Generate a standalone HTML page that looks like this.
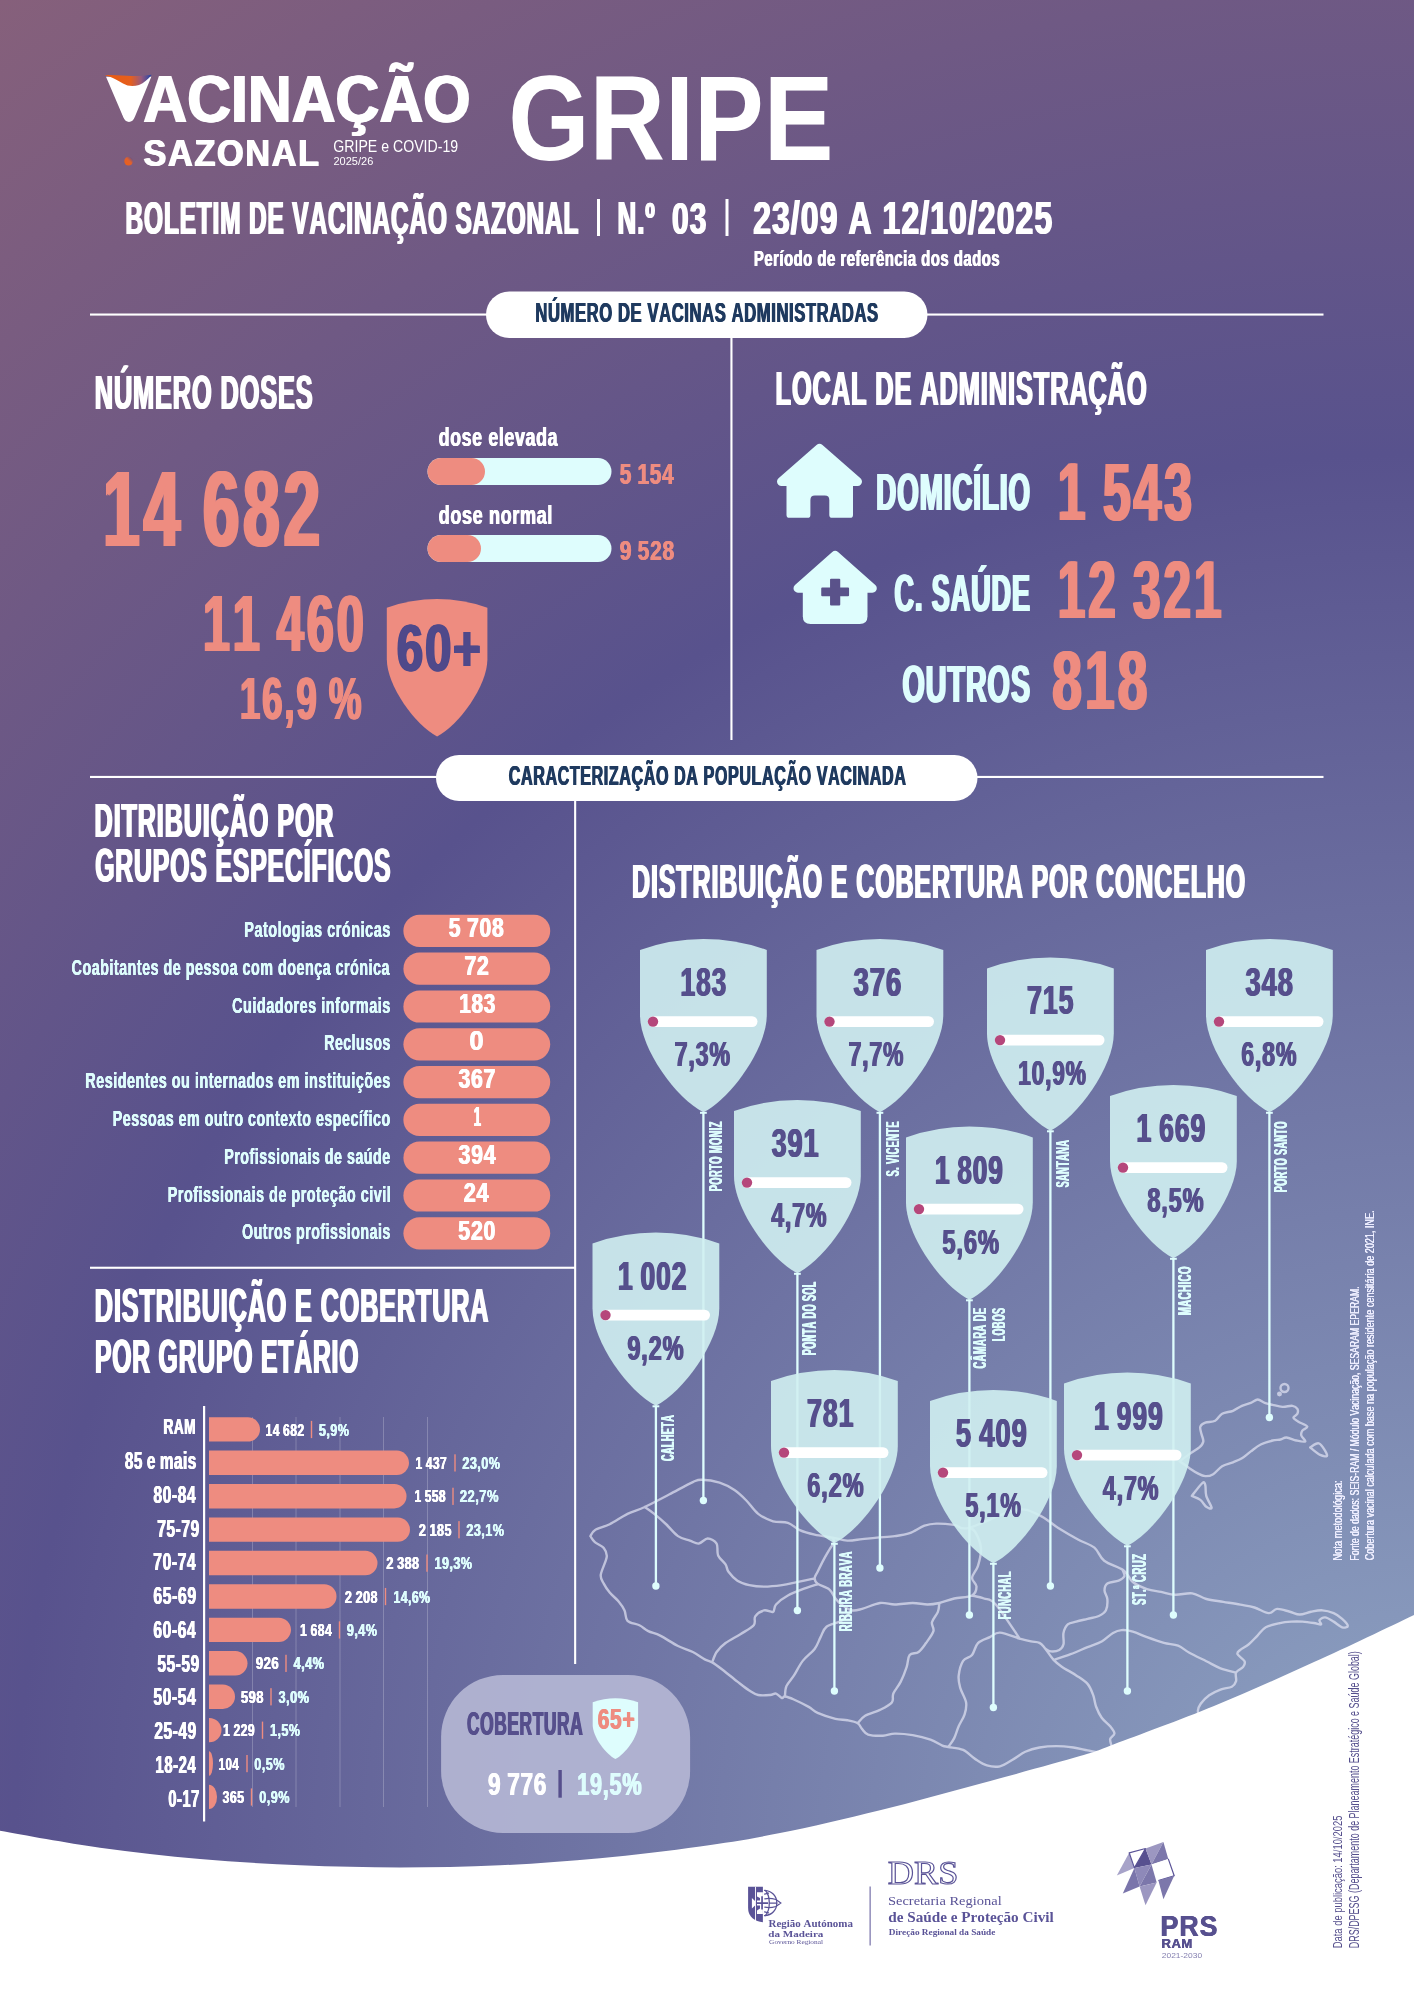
<!DOCTYPE html>
<html lang="pt"><head><meta charset="utf-8"><title>Boletim de Vacinação Sazonal - Gripe</title>
<style>
html,body{margin:0;padding:0}
body{width:1414px;height:2000px;position:relative;overflow:hidden;background:#5c528b;font-family:"Liberation Sans",sans-serif;font-weight:bold;font-kerning:none}
#bg{position:absolute;left:0;top:0;width:1414px;height:2000px;background:radial-gradient(circle 2400px at 1424px 1864px,#90a6c5 0px,#58528d 1410px,#86607b 2346px)}
svg{position:absolute;left:0;top:0}
#tx{position:absolute;left:0;top:0;width:1414px;height:2000px;will-change:transform;transform:translateZ(0)}
.t{position:absolute;white-space:nowrap;line-height:1;transform-origin:0 0;margin:0;padding:0}
</style></head><body>
<div id="bg"></div>
<div class="t" style="left:108px;top:70px;font-size:57.41px;color:#ffffff;transform:translateX(0.59px) scaleX(1.0398);">V</div>
<svg width="1414" height="2000" viewBox="0 0 1414 2000">
<defs><linearGradient id="lg1" gradientUnits="userSpaceOnUse" x1="106" y1="0" x2="151" y2="0"><stop offset="0" stop-color="#ea5a10"/><stop offset="0.55" stop-color="#e55f1e"/><stop offset="0.78" stop-color="#9a5a7c"/><stop offset="1" stop-color="#2446a6"/></linearGradient>
<linearGradient id="lg2" x1="0" y1="1" x2="1" y2="0"><stop offset="0" stop-color="#ee5f12"/><stop offset="0.55" stop-color="#e0602e"/><stop offset="1" stop-color="#3a4da6"/></linearGradient></defs>
<path d="M106 76.8 L151.3 76.8 L135 116.5 C133.5 120.5 131.5 121.9 129 121.9 C126.5 121.9 124.5 120.5 123 116.5 Z" fill="#fff"/>
<path d="M105.3 75 C112 75.2 120 75.2 127 75.8 C135 76.4 143 76.2 151.8 74.8 C148 79.2 144 83 139 85 C134 86.6 128 86.6 123 83.6 C117 80 112 77 105.3 75.2 Z" fill="url(#lg1)"/>
<circle cx="128.6" cy="161.1" r="4.3" fill="url(#lg2)"/>
<rect x="597" y="199" width="3" height="37" fill="#fff"/>
<rect x="725.5" y="199" width="3" height="37" fill="#fff"/>
<rect x="90" y="313.5" width="1233.5" height="2.1" fill="#fff"/>
<rect x="486" y="291.5" width="441.5" height="46.5" rx="23.25" fill="#fff"/>
<rect x="730.4" y="338" width="2.1" height="402" fill="#fff"/>
<rect x="427.5" y="458" width="184" height="27" rx="13.5" fill="#defdfd"/>
<rect x="427.5" y="458" width="57.5" height="27" rx="13.5" fill="#ee8c80"/>
<rect x="427.5" y="535" width="184" height="27" rx="13.5" fill="#defdfd"/>
<rect x="427.5" y="535" width="53.5" height="27" rx="13.5" fill="#ee8c80"/>
<path d="M386.8 607.65 A150.5 150.5 0 0 1 487.4 607.65 L487.4 659.36 C487.4 685.82 458.73 725.66 437.1 736.42 C415.47 725.66 386.8 685.82 386.8 659.36 Z" fill="#ee8c80"/>
<g transform="translate(777 444) scale(1 0.99)" fill="#defdfd"><path d="M42.5 4.5 L80.5 38 L4.5 38 Z" stroke="#defdfd" stroke-width="9" stroke-linejoin="round"/><path d="M9.5 36 L76 36 L76 71.6 Q76 74.6 73 74.6 L55.3 74.6 Q52.3 74.6 52.3 71.6 L52.3 56.5 Q52.3 52 47.8 52 L37.9 52 Q33.4 52 33.4 56.5 L33.4 71.6 Q33.4 74.6 30.4 74.6 L12.5 74.6 Q9.5 74.6 9.5 71.6 Z"/></g>
<g transform="translate(793.5 551) scale(0.98 0.98)" fill="#defdfd"><path d="M42.5 4.5 L80.5 38 L4.5 38 Z" stroke="#defdfd" stroke-width="9" stroke-linejoin="round"/><path d="M9.5 36 L75.5 36 L75.5 66.6 Q75.5 74.6 67.5 74.6 L17.5 74.6 Q9.5 74.6 9.5 66.6 Z"/><path d="M38.3 28.2 L46.7 28.2 Q47.7 28.2 47.7 29.2 L47.7 37.3 L55.7 37.3 Q56.7 37.3 56.7 38.3 L56.7 45.2 Q56.7 46.2 55.7 46.2 L47.7 46.2 L47.7 54.7 Q47.7 55.7 46.7 55.7 L38.3 55.7 Q37.3 55.7 37.3 54.7 L37.3 46.2 L29.3 46.2 Q28.3 46.2 28.3 45.2 L28.3 38.3 Q28.3 37.3 29.3 37.3 L37.3 37.3 L37.3 29.2 Q37.3 28.2 38.3 28.2 Z" fill="#5a528a"/></g>
<rect x="90" y="775.9" width="1233.5" height="2.1" fill="#fff"/>
<rect x="436" y="755" width="541.5" height="46" rx="23" fill="#fff"/>
<rect x="574.1" y="801" width="2.1" height="863" fill="#fff"/>
<rect x="403.4" y="914.8" width="146.8" height="32.2" rx="16.1" fill="#ee8c80"/>
<rect x="403.4" y="952.6" width="146.8" height="32.2" rx="16.1" fill="#ee8c80"/>
<rect x="403.4" y="990.4" width="146.8" height="32.2" rx="16.1" fill="#ee8c80"/>
<rect x="403.4" y="1028.2" width="146.8" height="32.2" rx="16.1" fill="#ee8c80"/>
<rect x="403.4" y="1066" width="146.8" height="32.2" rx="16.1" fill="#ee8c80"/>
<rect x="403.4" y="1103.8" width="146.8" height="32.2" rx="16.1" fill="#ee8c80"/>
<rect x="403.4" y="1141.6" width="146.8" height="32.2" rx="16.1" fill="#ee8c80"/>
<rect x="403.4" y="1179.4" width="146.8" height="32.2" rx="16.1" fill="#ee8c80"/>
<rect x="403.4" y="1217.2" width="146.8" height="32.2" rx="16.1" fill="#ee8c80"/>
<rect x="90" y="1266.7" width="485" height="2.1" fill="#fff"/>
<rect x="252" y="1417" width="1" height="390" fill="#fff" opacity="0.22"/>
<rect x="295.5" y="1417" width="1" height="390" fill="#fff" opacity="0.22"/>
<rect x="339.5" y="1417" width="1" height="390" fill="#fff" opacity="0.22"/>
<rect x="383" y="1417" width="1" height="390" fill="#fff" opacity="0.22"/>
<rect x="427" y="1417" width="1" height="390" fill="#fff" opacity="0.22"/>
<rect x="203" y="1406" width="2.2" height="415.5" fill="#fff"/>
<path d="M209 1417.2 L247.8 1417.2 A12.2 12.2 0 0 1 247.8 1441.6 L209 1441.6 Z" fill="#ee8c80"/>
<rect x="310.8" y="1420.9" width="1.4" height="17.2" fill="#ee8c80"/>
<path d="M209 1450.61 L396.8 1450.61 A12.2 12.2 0 0 1 396.8 1475.01 L209 1475.01 Z" fill="#ee8c80"/>
<rect x="454.3" y="1454.31" width="1.4" height="17.2" fill="#ee8c80"/>
<path d="M209 1484.02 L394.3 1484.02 A12.2 12.2 0 0 1 394.3 1508.42 L209 1508.42 Z" fill="#ee8c80"/>
<rect x="452.3" y="1487.72" width="1.4" height="17.2" fill="#ee8c80"/>
<path d="M209 1517.43 L397.8 1517.43 A12.2 12.2 0 0 1 397.8 1541.83 L209 1541.83 Z" fill="#ee8c80"/>
<rect x="458.3" y="1521.13" width="1.4" height="17.2" fill="#ee8c80"/>
<path d="M209 1550.84 L365.3 1550.84 A12.2 12.2 0 0 1 365.3 1575.24 L209 1575.24 Z" fill="#ee8c80"/>
<rect x="426.3" y="1554.54" width="1.4" height="17.2" fill="#ee8c80"/>
<path d="M209 1584.25 L324.3 1584.25 A12.2 12.2 0 0 1 324.3 1608.65 L209 1608.65 Z" fill="#ee8c80"/>
<rect x="384.8" y="1587.95" width="1.4" height="17.2" fill="#ee8c80"/>
<path d="M209 1617.66 L278.8 1617.66 A12.2 12.2 0 0 1 278.8 1642.06 L209 1642.06 Z" fill="#ee8c80"/>
<rect x="338.8" y="1621.36" width="1.4" height="17.2" fill="#ee8c80"/>
<path d="M209 1651.07 L235.3 1651.07 A12.2 12.2 0 0 1 235.3 1675.47 L209 1675.47 Z" fill="#ee8c80"/>
<rect x="285.3" y="1654.77" width="1.4" height="17.2" fill="#ee8c80"/>
<path d="M209 1684.48 L222.8 1684.48 A12.2 12.2 0 0 1 222.8 1708.88 L209 1708.88 Z" fill="#ee8c80"/>
<rect x="270.3" y="1688.18" width="1.4" height="17.2" fill="#ee8c80"/>
<path d="M209 1717.89 L209.3 1717.89 A12.2 12.2 0 0 1 209.3 1742.29 L209 1742.29 Z" fill="#ee8c80"/>
<rect x="261.8" y="1721.59" width="1.4" height="17.2" fill="#ee8c80"/>
<path d="M209 1751.3 L209 1751.3 A4 12.2 0 0 1 209 1775.7 L209 1775.7 Z" fill="#ee8c80"/>
<rect x="246.3" y="1755" width="1.4" height="17.2" fill="#ee8c80"/>
<path d="M209 1784.71 L209 1784.71 A8 12.2 0 0 1 209 1809.11 L209 1809.11 Z" fill="#ee8c80"/>
<rect x="250.8" y="1788.41" width="1.4" height="17.2" fill="#ee8c80"/>
<rect x="441.1" y="1674.9" width="249" height="158.1" rx="62" fill="#b3b5d2" opacity="0.94"/>
<path d="M592.7 1702.22 A67.92 66.37 0 0 1 638.1 1702.22 L638.1 1725.02 C638.1 1736.69 625.16 1754.25 615.4 1759 C605.64 1754.25 592.7 1736.69 592.7 1725.02 Z" fill="#defdfd"/>
<rect x="558.4" y="1770" width="3.4" height="27.7" fill="#564f8c"/>
<g fill="none" stroke="#e2e4f3" stroke-opacity="0.7" stroke-width="2.4" stroke-linejoin="round" stroke-linecap="round"><path d="M590.4 1536.13 C591.14 1535.14 591.63 1532.17 594.85 1530.19 C598.07 1528.21 604.26 1526.97 609.7 1524.25 C615.15 1521.53 621.68 1516.73 627.52 1513.86 C633.36 1510.98 637.82 1510.24 644.75 1507.02 C651.68 1503.81 661.08 1498.71 669.1 1494.55 C677.12 1490.39 687.42 1484.55 692.86 1482.08 C698.31 1479.6 697.32 1479.6 701.77 1479.7 C706.23 1479.8 714.15 1480.94 719.59 1482.67 C725.04 1484.4 729.99 1487.13 734.44 1490.1 C738.9 1493.07 742.36 1496.53 746.32 1500.49 C750.28 1504.45 753.75 1510.39 758.2 1513.86 C762.66 1517.32 768.1 1519.8 773.05 1521.28 C778 1522.77 783.45 1521.28 787.9 1522.77 C792.36 1524.25 795.33 1528.21 799.78 1530.19 C804.24 1532.17 809.19 1533.41 814.63 1534.65 C820.08 1535.88 827.01 1536.63 832.45 1537.62 C837.9 1538.61 842.35 1540.34 847.3 1540.59 C852.25 1540.83 857.2 1539.6 862.15 1539.1 C867.1 1538.61 871.56 1538.11 877 1537.62 C882.45 1537.12 889.38 1536.87 894.82 1536.13 C900.27 1535.39 904.72 1534.89 909.67 1533.16 C914.62 1531.43 920.07 1527.32 924.52 1525.74 C928.98 1524.15 931.45 1523.8 936.4 1523.66 C941.35 1523.51 948.78 1524.15 954.22 1524.84 C959.67 1525.54 958.84 1530.3 969.07 1527.81 C979.31 1525.33 1004.04 1512.09 1015.63 1509.93 C1027.22 1507.77 1031.49 1511.84 1038.6 1514.85 C1045.71 1517.86 1051.73 1523.88 1058.29 1527.98 C1064.85 1532.08 1071.96 1536.18 1077.98 1539.46 C1083.99 1542.74 1090.01 1544.11 1094.39 1547.67 C1098.76 1551.22 1099.31 1556.96 1104.23 1560.79 C1109.15 1564.62 1119.16 1567.1 1123.92 1570.64 C1128.68 1574.18 1128.97 1578.96 1132.81 1582.04 C1136.65 1585.12 1142.24 1587.46 1146.96 1589.11 C1151.67 1590.76 1156.39 1590.99 1161.1 1591.94 C1165.82 1592.88 1170.06 1594.53 1175.24 1594.77 C1180.43 1595 1187.03 1592.64 1192.22 1593.35 C1197.4 1594.06 1201.18 1597.6 1206.36 1599.01 C1211.55 1600.42 1217.68 1600.9 1223.34 1601.84 C1228.99 1602.78 1235.12 1603.72 1240.31 1604.67 C1245.49 1605.61 1249.74 1606.08 1254.45 1607.5 C1259.17 1608.91 1264.83 1612.92 1268.6 1613.15 C1272.37 1613.39 1273.55 1609.15 1277.08 1608.91 C1280.62 1608.68 1286.04 1610.8 1289.81 1611.74 C1293.59 1612.68 1296.18 1614.57 1299.71 1614.57 C1303.25 1614.57 1307.26 1612.45 1311.03 1611.74 C1314.8 1611.03 1318.57 1610.09 1322.35 1610.33 C1326.12 1610.56 1330.36 1611.74 1333.66 1613.15 C1336.96 1614.57 1339.79 1616.69 1342.15 1618.81 C1344.5 1620.93 1347.8 1624.47 1347.8 1625.88 C1347.8 1627.3 1344.5 1628.01 1342.15 1627.3 C1339.79 1626.59 1336.49 1623.29 1333.66 1621.64 C1330.83 1619.99 1327.53 1617.63 1325.17 1617.4 C1322.82 1617.16 1320.22 1619.05 1319.52 1620.23 C1318.81 1621.4 1321.87 1624 1320.93 1624.47 C1319.99 1624.94 1316.92 1623.53 1313.86 1623.06 C1310.79 1622.58 1306.31 1621.88 1302.54 1621.64 C1298.77 1621.4 1295 1621.4 1291.23 1621.64 C1287.46 1621.88 1284.16 1622.11 1279.91 1623.06 C1275.67 1624 1269.54 1625.18 1265.77 1627.3 C1262 1629.42 1260.11 1632.96 1257.28 1635.79 C1254.45 1638.61 1251.62 1641.91 1248.79 1644.27 C1245.97 1646.63 1242.19 1648.28 1240.31 1649.93 C1238.42 1651.58 1236.77 1652.29 1237.48 1654.17 C1238.19 1656.06 1243.61 1659.12 1244.55 1661.24 C1245.49 1663.37 1244.55 1665.02 1243.14 1666.9 C1241.72 1668.79 1237.24 1670.2 1236.07 1672.56 C1234.89 1674.92 1236.77 1678.69 1236.07 1681.05 C1235.36 1683.4 1234.41 1685.29 1231.82 1686.7 C1229.23 1688.12 1224.28 1688.12 1220.51 1689.53 C1216.73 1690.95 1212.49 1692.83 1209.19 1695.19 C1205.89 1697.55 1202.59 1701.08 1200.7 1703.68 C1198.82 1706.27 1198.11 1708.16 1197.88 1710.75 C1197.64 1713.34 1199.76 1716.64 1199.29 1719.24 C1198.82 1721.83 1195.75 1725.13 1195.05 1726.31 M590.4 1536.13 C591.14 1537.12 592.62 1540.09 594.85 1542.07 C597.08 1544.05 601.78 1545.54 603.76 1548.01 C605.74 1550.49 607.23 1552.47 606.73 1556.92 C606.24 1561.38 601.29 1570.29 600.79 1574.74 C600.3 1579.2 602.28 1580.68 603.76 1583.65 C605.25 1586.62 607.23 1589.59 609.7 1592.56 C612.18 1595.53 616.14 1598.5 618.61 1601.47 C621.09 1604.44 623.07 1607.16 624.55 1610.38 C626.04 1613.6 625.05 1618.3 627.52 1620.78 C630 1623.25 635.94 1623.5 639.4 1625.23 C642.87 1626.96 644.85 1629.44 648.31 1631.17 C651.78 1632.9 655.24 1633.15 660.19 1635.63 C665.14 1638.1 672.57 1643.3 678.01 1646.02 C683.46 1648.74 688.41 1649.73 692.86 1651.96 C697.32 1654.19 701.52 1657.65 704.74 1659.39 C707.96 1661.12 709.2 1660.62 712.17 1662.36 C715.14 1664.09 718.35 1666.56 722.56 1669.78 C726.77 1673 732.96 1678.2 737.41 1681.66 C741.87 1685.13 745.83 1688.34 749.29 1690.57 C752.76 1692.8 754.74 1694.28 758.2 1695.03 C761.67 1695.77 767.11 1695.27 770.08 1695.03 C773.05 1694.78 774.04 1693.05 776.02 1693.54 C778 1694.04 780.48 1697.5 781.96 1698 C783.45 1698.49 782.95 1696.26 784.93 1696.51 C786.91 1696.76 789.88 1697.75 793.84 1699.48 C797.8 1701.21 804.73 1704.68 808.69 1706.91 C812.65 1709.13 813.15 1710.87 817.6 1712.85 C822.06 1714.83 830.47 1717.55 835.42 1718.79 C840.37 1720.02 843.59 1719.53 847.3 1720.27 C851.01 1721.01 855.22 1721.76 857.7 1723.24 C860.17 1724.73 860.42 1727.3 862.15 1729.18 C863.88 1731.06 864.63 1733.44 868.09 1734.53 C871.56 1735.62 878.49 1735.86 882.94 1735.71 C887.4 1735.57 889.87 1733.73 894.82 1733.64 C899.77 1733.54 906.7 1734.13 912.64 1735.12 C918.58 1736.11 925.51 1737.84 930.46 1739.58 C935.41 1741.31 939.37 1744.28 942.34 1745.52 C945.31 1746.75 944.82 1746.26 948.28 1747 C951.75 1747.74 958.68 1747.99 963.13 1749.97 C967.59 1751.95 971.05 1756.31 975.01 1758.88 C978.97 1761.45 982.73 1764.18 986.89 1765.41 C991.05 1766.65 995.44 1767.4 999.96 1766.31 C1004.48 1765.21 1009.77 1761.26 1014 1758.84 C1018.23 1756.42 1021.07 1753.65 1025.32 1751.77 C1029.56 1749.88 1034.27 1748.47 1039.46 1747.52 C1044.65 1746.58 1050.78 1746.11 1056.43 1746.11 C1062.09 1746.11 1068.22 1746.82 1073.41 1747.52 C1078.59 1748.23 1083.31 1749.55 1087.55 1750.35 C1091.79 1751.16 1095.09 1752.57 1098.87 1752.33 C1102.64 1752.1 1108.3 1749.5 1110.18 1748.94 M644.75 1507.02 C646.33 1508.16 650.69 1510.98 654.25 1513.86 C657.81 1516.73 662.17 1520.54 666.13 1524.25 C670.09 1527.96 674.05 1533.41 678.01 1536.13 C681.97 1538.85 686.43 1539.35 689.89 1540.59 C693.36 1541.82 695.83 1543.9 698.8 1543.56 C701.77 1543.21 704.74 1538.51 707.71 1538.51 C710.68 1538.51 714.89 1540.73 716.62 1543.56 C718.35 1546.38 716.62 1551.97 718.11 1555.44 C719.59 1558.9 723.8 1561.62 725.53 1564.35 C727.26 1567.07 726.52 1569.05 728.5 1571.77 C730.48 1574.49 733.95 1578.45 737.41 1580.68 C740.88 1582.91 744.84 1584.15 749.29 1585.14 C753.75 1586.13 758.7 1586.62 764.14 1586.62 C769.59 1586.62 776.52 1585.88 781.96 1585.14 C787.41 1584.39 791.37 1583.3 796.81 1582.17 C802.26 1581.03 811.66 1578.95 814.63 1578.3 M832.45 1537.62 C832.7 1538.36 834.43 1540.09 833.94 1542.07 C833.44 1544.05 831.21 1546.53 829.48 1549.5 C827.75 1552.47 825.52 1556.18 823.54 1559.89 C821.56 1563.6 819.09 1568.7 817.6 1571.77 C816.12 1574.84 814.63 1576.32 814.63 1578.3 C814.63 1580.28 815.13 1581.77 817.6 1583.65 C820.08 1585.53 826.51 1587.12 829.48 1589.59 C832.45 1592.07 833.44 1596.03 835.42 1598.5 C837.4 1600.98 838.64 1602.46 841.36 1604.44 C844.08 1606.42 848.29 1609.64 851.76 1610.38 C855.22 1611.12 857.45 1610.13 862.15 1608.9 C866.85 1607.66 874.53 1603.7 879.97 1602.96 C885.42 1602.21 889.38 1604.44 894.82 1604.44 C900.27 1604.44 907.2 1602.96 912.64 1602.96 C918.09 1602.96 923.04 1604.44 927.49 1604.44 C931.95 1604.44 934.92 1603.95 939.37 1602.96 C943.83 1601.97 948.78 1599.74 954.22 1598.5 C959.67 1597.26 968.33 1597.51 972.04 1595.53 C975.75 1593.55 976.5 1589.59 976.5 1586.62 C976.5 1583.65 971.79 1581.18 972.04 1577.71 C972.29 1574.25 976.5 1570.78 977.98 1565.83 C979.47 1560.88 981.45 1553.7 980.95 1548.01 C980.46 1542.32 976.99 1535.04 975.01 1531.68 C973.03 1528.31 970.06 1528.46 969.07 1527.81 M817.6 1584.24 C815.62 1584.89 810.67 1586.22 805.72 1588.11 C800.77 1589.99 792.85 1592.81 787.9 1595.53 C782.95 1598.25 778.5 1601.72 776.02 1604.44 C773.55 1607.16 775.03 1610.88 773.05 1611.87 C771.07 1612.86 767.11 1609.64 764.14 1610.38 C761.17 1611.12 756.96 1613.85 755.23 1616.32 C753.5 1618.8 756.22 1622.26 753.75 1625.23 C751.27 1628.2 745.08 1631.17 740.38 1634.14 C735.68 1637.11 729.49 1640.08 725.53 1643.05 C721.57 1646.02 718.85 1648.74 716.62 1651.96 C714.39 1655.18 712.91 1660.62 712.17 1662.36 M851.76 1610.38 C850.02 1612.11 845.57 1618.05 841.36 1620.78 C837.15 1623.5 829.98 1623.99 826.51 1626.72 C823.05 1629.44 822.55 1633.4 820.57 1637.11 C818.59 1640.82 817.6 1645.03 814.63 1648.99 C811.66 1652.95 806.22 1656.42 802.75 1660.87 C799.29 1665.33 796.56 1671.51 793.84 1675.72 C791.12 1679.93 787.9 1682.65 786.42 1686.12 C784.93 1689.58 785.18 1694.78 784.93 1696.51 M939.37 1602.96 C939.12 1604.44 939.12 1608.65 937.89 1611.87 C936.65 1615.08 932.69 1619.04 931.95 1622.26 C931.2 1625.48 934.42 1627.71 933.43 1631.17 C932.44 1634.64 928.48 1639.59 926.01 1643.05 C923.53 1646.52 921.3 1649.98 918.58 1651.96 C915.86 1653.94 911.65 1652.46 909.67 1654.93 C907.69 1657.41 908.19 1662.36 906.7 1666.81 C905.22 1671.27 902.99 1677.21 900.76 1681.66 C898.53 1686.12 894.82 1690.08 893.34 1693.54 C891.85 1697.01 894.08 1699.73 891.85 1702.45 C889.62 1705.17 884.43 1707.65 879.97 1709.88 C875.52 1712.1 868.83 1713.59 865.12 1715.82 C861.41 1718.04 858.93 1722 857.7 1723.24 M948.28 1747 C949.27 1745.52 952.49 1741.56 954.22 1738.09 C955.95 1734.63 956.94 1730.17 958.68 1726.21 C960.41 1722.25 963.38 1718.29 964.62 1714.33 C965.85 1710.37 966.84 1706.91 966.1 1702.45 C965.36 1698 961.4 1692.06 960.16 1687.6 C958.92 1683.15 958.18 1680.18 958.68 1675.72 C959.17 1671.27 960.9 1664.34 963.13 1660.87 C965.36 1657.41 969.57 1657.9 972.04 1654.93 C974.52 1651.96 975.01 1646.02 977.98 1643.05 C980.95 1640.08 986.2 1638.84 989.86 1637.11 C993.52 1635.38 994.99 1632.4 999.96 1632.66 C1004.92 1632.91 1014.49 1637.15 1019.66 1638.61 C1024.83 1640.08 1027.67 1640.74 1030.97 1641.44 C1034.27 1642.15 1037.1 1641.68 1039.46 1642.86 C1041.82 1644.04 1042.76 1645.69 1045.12 1648.51 C1047.47 1651.34 1050.78 1656.77 1053.6 1659.83 C1056.43 1662.89 1058.32 1664.31 1062.09 1666.9 C1065.86 1669.5 1071.99 1672.56 1076.23 1675.39 C1080.48 1678.22 1084.72 1680.58 1087.55 1683.88 C1090.38 1687.18 1091.79 1691.42 1093.21 1695.19 C1094.62 1698.96 1094.62 1702.73 1096.04 1706.51 C1097.45 1710.28 1099.34 1714.52 1101.69 1717.82 C1104.05 1721.12 1108.06 1723.72 1110.18 1726.31 C1112.3 1728.9 1114.42 1731.26 1114.42 1733.38 C1114.42 1735.5 1110.65 1736.92 1110.18 1739.04 C1109.71 1741.16 1111.36 1744.93 1111.6 1746.11 M972.04 1595.53 C974.02 1596.03 979.96 1597.02 983.92 1598.5 C987.88 1599.99 989.84 1597.75 995.8 1604.44 C1001.76 1611.13 1015.68 1632.92 1019.66 1638.61 M1122.91 1570.72 C1123.15 1571.66 1125.03 1574.73 1124.33 1576.38 C1123.62 1578.03 1121.5 1579.44 1118.67 1580.62 C1115.84 1581.8 1109.71 1581.8 1107.35 1583.45 C1104.99 1585.1 1104.52 1587.93 1104.52 1590.52 C1104.52 1593.12 1107.12 1595.71 1107.35 1599.01 C1107.59 1602.31 1107.35 1607.5 1105.94 1610.33 C1104.52 1613.15 1101.93 1614.57 1098.87 1615.98 C1095.8 1617.4 1091.32 1617.87 1087.55 1618.81 C1083.78 1619.75 1079.54 1620.7 1076.23 1621.64 C1072.93 1622.58 1069.87 1622.58 1067.75 1624.47 C1065.63 1626.36 1064.21 1629.66 1063.5 1632.96 C1062.8 1636.26 1064.21 1641.44 1063.5 1644.27 C1062.8 1647.1 1061.38 1648.75 1059.26 1649.93 C1057.14 1651.11 1053.13 1651.58 1050.78 1651.34 C1048.42 1651.11 1046.06 1648.99 1045.12 1648.51 M1053.6 1659.83 C1056.43 1658.89 1064.92 1656.29 1070.58 1654.17 C1076.23 1652.05 1082.36 1649.22 1087.55 1647.1 C1092.74 1644.98 1097.45 1643.8 1101.69 1641.44 C1105.94 1639.09 1109.71 1634.84 1113.01 1632.96 C1116.31 1631.07 1118.2 1630.36 1121.5 1630.13 C1124.8 1629.89 1128.57 1630.36 1132.81 1631.54 C1137.06 1632.72 1141.77 1635.31 1146.96 1637.2 C1152.14 1639.09 1158.74 1641.44 1163.93 1642.86 C1169.12 1644.27 1173.83 1644.04 1178.07 1645.69 C1182.32 1647.34 1184.67 1650.17 1189.39 1652.76 C1194.1 1655.35 1201.18 1658.65 1206.36 1661.24 C1211.55 1663.84 1215.56 1666.43 1220.51 1668.32 C1225.46 1670.2 1233.47 1671.85 1236.07 1672.56 M1179.54 1461.29 C1181.36 1459.97 1187.14 1455.68 1190.44 1453.37 C1193.74 1451.06 1197.2 1449.41 1199.35 1447.43 C1201.49 1445.45 1202.98 1443.8 1203.31 1441.49 C1203.64 1439.17 1201.82 1436.04 1201.33 1433.56 C1200.83 1431.09 1199.68 1428.45 1200.34 1426.63 C1201 1424.82 1202.81 1423.66 1205.29 1422.67 C1207.76 1421.68 1212.38 1422.18 1215.19 1420.69 C1217.99 1419.21 1219.15 1415.41 1222.12 1413.76 C1225.09 1412.11 1229.71 1412.11 1233.01 1410.79 C1236.31 1409.47 1238.95 1407.16 1241.92 1405.84 C1244.89 1404.52 1248.19 1403.93 1250.83 1402.87 C1253.47 1401.82 1255.45 1399.5 1257.76 1399.5 C1260.07 1399.5 1262.22 1401.98 1264.69 1402.87 C1267.17 1403.76 1269.64 1404.19 1272.61 1404.85 C1275.58 1405.51 1279.21 1406.67 1282.51 1406.83 C1285.82 1407 1289.94 1405.51 1292.42 1405.84 C1294.89 1406.17 1296.54 1407.49 1297.37 1408.81 C1298.19 1410.13 1298.03 1412.28 1297.37 1413.76 C1296.71 1415.25 1293.24 1416.4 1293.41 1417.72 C1293.57 1419.04 1296.05 1420.2 1298.36 1421.68 C1300.67 1423.17 1306.61 1425.15 1307.27 1426.63 C1307.93 1428.12 1303.31 1429.11 1302.32 1430.59 C1301.33 1432.08 1300.83 1433.73 1301.33 1435.54 C1301.82 1437.36 1306.11 1440.66 1305.29 1441.49 C1304.46 1442.31 1299.51 1441.16 1296.38 1440.5 C1293.24 1439.83 1289.12 1437.69 1286.48 1437.52 C1283.83 1437.36 1282.84 1439.01 1280.53 1439.5 C1278.22 1440 1275.91 1439.67 1272.61 1440.5 C1269.31 1441.32 1264.36 1442.64 1260.73 1444.46 C1257.1 1446.27 1253.97 1449.08 1250.83 1451.39 C1247.7 1453.7 1244.89 1456.5 1241.92 1458.32 C1238.95 1460.13 1236.31 1460.96 1233.01 1462.28 C1229.71 1463.6 1225.42 1464.26 1222.12 1466.24 C1218.82 1468.22 1216.01 1472.51 1213.21 1474.16 C1210.4 1475.81 1207.93 1476.3 1205.29 1476.14 C1202.65 1475.97 1200.01 1474.49 1197.37 1473.17 C1194.73 1471.85 1192.42 1470.2 1189.45 1468.22 C1186.48 1466.24 1181.19 1462.44 1179.54 1461.29 M1310.24 1447.43 C1311.72 1446.77 1316.34 1442.15 1319.15 1443.47 C1321.95 1444.79 1326.9 1453.43 1327.07 1455.35 C1327.23 1457.26 1322.94 1456.27 1320.14 1454.95 C1317.33 1453.63 1311.89 1448.68 1310.24 1447.43 M1191.82 1495.94 C1193.57 1493.8 1200.07 1484.88 1202.32 1483.07 C1204.56 1481.25 1204.63 1482.9 1205.29 1485.05 C1205.95 1487.19 1205.22 1492.15 1206.28 1495.94 C1207.33 1499.74 1211.62 1506.01 1211.62 1507.82 C1211.62 1509.64 1208.16 1508.15 1206.28 1506.83 C1204.4 1505.51 1202.75 1501.72 1200.34 1499.9 C1197.93 1498.09 1193.24 1496.6 1191.82 1495.94"/><circle cx="1284.5" cy="1388" r="4"/><circle cx="1279.5" cy="1394" r="1.3"/></g>
<rect x="702.25" y="1111.8" width="2.3" height="388.7" fill="#defdfd"/><rect x="700" y="1111.8" width="6.8" height="2" fill="#defdfd"/><circle cx="703.4" cy="1500.5" r="3.7" fill="#defdfd"/>
<rect x="878.75" y="1111.8" width="2.3" height="456.2" fill="#defdfd"/><rect x="876.5" y="1111.8" width="6.8" height="2" fill="#defdfd"/><circle cx="879.9" cy="1568" r="3.7" fill="#defdfd"/>
<rect x="1049.25" y="1130.3" width="2.3" height="455.7" fill="#defdfd"/><rect x="1047" y="1130.3" width="6.8" height="2" fill="#defdfd"/><circle cx="1050.4" cy="1586" r="3.7" fill="#defdfd"/>
<rect x="1268.25" y="1111.8" width="2.3" height="305.7" fill="#defdfd"/><rect x="1266" y="1111.8" width="6.8" height="2" fill="#defdfd"/><circle cx="1269.4" cy="1417.5" r="3.7" fill="#defdfd"/>
<rect x="796.25" y="1272.8" width="2.3" height="337.7" fill="#defdfd"/><rect x="794" y="1272.8" width="6.8" height="2" fill="#defdfd"/><circle cx="797.4" cy="1610.5" r="3.7" fill="#defdfd"/>
<rect x="968.25" y="1299.3" width="2.3" height="315.7" fill="#defdfd"/><rect x="966" y="1299.3" width="6.8" height="2" fill="#defdfd"/><circle cx="969.4" cy="1615" r="3.7" fill="#defdfd"/>
<rect x="1172.25" y="1257.8" width="2.3" height="357.2" fill="#defdfd"/><rect x="1170" y="1257.8" width="6.8" height="2" fill="#defdfd"/><circle cx="1173.4" cy="1615" r="3.7" fill="#defdfd"/>
<rect x="654.75" y="1405.3" width="2.3" height="180.7" fill="#defdfd"/><rect x="652.5" y="1405.3" width="6.8" height="2" fill="#defdfd"/><circle cx="655.9" cy="1586" r="3.7" fill="#defdfd"/>
<rect x="833.25" y="1542.8" width="2.3" height="148.2" fill="#defdfd"/><rect x="831" y="1542.8" width="6.8" height="2" fill="#defdfd"/><circle cx="834.4" cy="1691" r="3.7" fill="#defdfd"/>
<rect x="992.25" y="1562.8" width="2.3" height="144.7" fill="#defdfd"/><rect x="990" y="1562.8" width="6.8" height="2" fill="#defdfd"/><circle cx="993.4" cy="1707.5" r="3.7" fill="#defdfd"/>
<rect x="1126.25" y="1545.3" width="2.3" height="145.7" fill="#defdfd"/><rect x="1124" y="1545.3" width="6.8" height="2" fill="#defdfd"/><circle cx="1127.4" cy="1691" r="3.7" fill="#defdfd"/>
<path d="M640 949.9 A189.69 189.69 0 0 1 766.8 949.9 L766.8 1015.08 C766.8 1048.43 730.66 1098.64 703.4 1112.21 C676.14 1098.64 640 1048.43 640 1015.08 Z" fill="#d0eff1" fill-opacity="0.9"/>
<rect x="648" y="1016.2" width="109.5" height="10.8" rx="5.4" fill="#fff"/><circle cx="653" cy="1021.6" r="5.2" fill="#b5477b"/>
<path d="M816.5 949.9 A189.69 189.69 0 0 1 943.3 949.9 L943.3 1015.08 C943.3 1048.43 907.16 1098.64 879.9 1112.21 C852.64 1098.64 816.5 1048.43 816.5 1015.08 Z" fill="#d0eff1" fill-opacity="0.9"/>
<rect x="824.5" y="1016.2" width="109.5" height="10.8" rx="5.4" fill="#fff"/><circle cx="829.5" cy="1021.6" r="5.2" fill="#b5477b"/>
<path d="M987 968.4 A189.69 189.69 0 0 1 1113.8 968.4 L1113.8 1033.58 C1113.8 1066.93 1077.66 1117.14 1050.4 1130.71 C1023.14 1117.14 987 1066.93 987 1033.58 Z" fill="#d0eff1" fill-opacity="0.9"/>
<rect x="995" y="1034.7" width="109.5" height="10.8" rx="5.4" fill="#fff"/><circle cx="1000" cy="1040.1" r="5.2" fill="#b5477b"/>
<path d="M1206 949.9 A189.69 189.69 0 0 1 1332.8 949.9 L1332.8 1015.08 C1332.8 1048.43 1296.66 1098.64 1269.4 1112.21 C1242.14 1098.64 1206 1048.43 1206 1015.08 Z" fill="#d0eff1" fill-opacity="0.9"/>
<rect x="1214" y="1016.2" width="109.5" height="10.8" rx="5.4" fill="#fff"/><circle cx="1219" cy="1021.6" r="5.2" fill="#b5477b"/>
<path d="M734 1110.9 A189.69 189.69 0 0 1 860.8 1110.9 L860.8 1176.08 C860.8 1209.43 824.66 1259.64 797.4 1273.21 C770.14 1259.64 734 1209.43 734 1176.08 Z" fill="#d0eff1" fill-opacity="0.9"/>
<rect x="742" y="1177.2" width="109.5" height="10.8" rx="5.4" fill="#fff"/><circle cx="747" cy="1182.6" r="5.2" fill="#b5477b"/>
<path d="M906 1137.4 A189.69 189.69 0 0 1 1032.8 1137.4 L1032.8 1202.58 C1032.8 1235.93 996.66 1286.14 969.4 1299.71 C942.14 1286.14 906 1235.93 906 1202.58 Z" fill="#d0eff1" fill-opacity="0.9"/>
<rect x="914" y="1203.7" width="109.5" height="10.8" rx="5.4" fill="#fff"/><circle cx="919" cy="1209.1" r="5.2" fill="#b5477b"/>
<path d="M1110 1095.9 A189.69 189.69 0 0 1 1236.8 1095.9 L1236.8 1161.08 C1236.8 1194.43 1200.66 1244.64 1173.4 1258.21 C1146.14 1244.64 1110 1194.43 1110 1161.08 Z" fill="#d0eff1" fill-opacity="0.9"/>
<rect x="1118" y="1162.2" width="109.5" height="10.8" rx="5.4" fill="#fff"/><circle cx="1123" cy="1167.6" r="5.2" fill="#b5477b"/>
<path d="M592.5 1243.4 A189.69 189.69 0 0 1 719.3 1243.4 L719.3 1308.58 C719.3 1341.93 683.16 1392.14 655.9 1405.71 C628.64 1392.14 592.5 1341.93 592.5 1308.58 Z" fill="#d0eff1" fill-opacity="0.9"/>
<rect x="600.5" y="1309.7" width="109.5" height="10.8" rx="5.4" fill="#fff"/><circle cx="605.5" cy="1315.1" r="5.2" fill="#b5477b"/>
<path d="M771 1380.9 A189.69 189.69 0 0 1 897.8 1380.9 L897.8 1446.08 C897.8 1479.43 861.66 1529.64 834.4 1543.21 C807.14 1529.64 771 1479.43 771 1446.08 Z" fill="#d0eff1" fill-opacity="0.9"/>
<rect x="779" y="1447.2" width="109.5" height="10.8" rx="5.4" fill="#fff"/><circle cx="784" cy="1452.6" r="5.2" fill="#b5477b"/>
<path d="M930 1400.9 A189.69 189.69 0 0 1 1056.8 1400.9 L1056.8 1466.08 C1056.8 1499.43 1020.66 1549.64 993.4 1563.21 C966.14 1549.64 930 1499.43 930 1466.08 Z" fill="#d0eff1" fill-opacity="0.9"/>
<rect x="938" y="1467.2" width="109.5" height="10.8" rx="5.4" fill="#fff"/><circle cx="943" cy="1472.6" r="5.2" fill="#b5477b"/>
<path d="M1064 1383.4 A189.69 189.69 0 0 1 1190.8 1383.4 L1190.8 1448.58 C1190.8 1481.93 1154.66 1532.14 1127.4 1545.71 C1100.14 1532.14 1064 1481.93 1064 1448.58 Z" fill="#d0eff1" fill-opacity="0.9"/>
<rect x="1072" y="1449.7" width="109.5" height="10.8" rx="5.4" fill="#fff"/><circle cx="1077" cy="1455.1" r="5.2" fill="#b5477b"/>
<path d="M-40 1822 C-33.33 1823.47 -23.33 1826.52 0 1830.8 C23.33 1835.08 66.67 1843 100 1847.7 C133.33 1852.4 166.67 1856.07 200 1859 C233.33 1861.93 266.67 1863.9 300 1865.3 C333.33 1866.7 366.67 1867.4 400 1867.4 C433.33 1867.4 466.67 1866.83 500 1865.3 C533.33 1863.77 566.67 1861.33 600 1858.2 C633.33 1855.07 670 1850.68 700 1846.5 C730 1842.32 750 1839.15 780 1833.1 C810 1827.05 846.67 1818.43 880 1810.2 C913.33 1801.97 946.67 1792.72 980 1783.7 C1013.33 1774.68 1057.67 1762.68 1080 1756.1 C1102.33 1749.52 1091.67 1752.55 1114 1744.2 C1136.33 1735.85 1180.67 1719.68 1214 1706 C1247.33 1692.32 1280.67 1677.28 1314 1662.1 C1347.33 1646.92 1389.67 1626.58 1414 1614.9 C1438.33 1603.22 1452.33 1595.82 1460 1592 L1460 2010 L-40 2010 Z" fill="#fff"/>
<g fill="none" stroke="#5a5397" stroke-width="1.25" stroke-linecap="round"><path d="M764.5 1890.3 C772 1890.8 776.8 1896 776.8 1903 C776.8 1910 772 1915.2 764.5 1915.7"/><path d="M765.5 1890.5 C768.5 1894 769.3 1898.5 769.3 1903 C769.3 1907.5 768.5 1912 765.5 1915.5"/><path d="M764.8 1898.8 C768 1898 772 1898.3 776 1899.5 L780.8 1903 L776 1906.5 C772 1907.7 768 1908 764.8 1907.2"/><path d="M764.6 1894.2 L768.5 1893.2 M764.6 1911.8 L768.5 1912.8 M769.3 1903 L776.8 1903"/></g>
<path d="M748.1 1886.7 L762.9 1886.7 L762.9 1922.3 C755 1921.5 748.1 1917 748.1 1908 Z" fill="#5a5397"/>
<path d="M755 1886.7 L755.9 1886.7 L755.9 1922 L755 1922 Z M757 1892.3 L762.9 1892.3 L762.9 1914 L757 1914 Z M751.9 1897.9 L755 1900.9 L755 1905.6 L751.9 1908.5 Z" fill="#fff"/>
<path d="M757 1896.5 L760 1898 L760 1900.6 L757 1900.6 Z M757 1905.4 L760 1905.4 L760 1908.5 L757 1910.5 Z M761.2 1896.2 L762.9 1896.2 L762.9 1909.4 L761.2 1909.4 Z M756.1 1902.3 L768 1902.3 L768 1903.9 L756.1 1903.9 Z" fill="#5a5397"/>
<rect x="869.6" y="1886.5" width="1" height="59" fill="#5a5397"/>
<g><path d="M1116.8 1875.5 L1129.2 1852.8 L1134.4 1867.9 Z" fill="#a7a3c9" /><path d="M1129.2 1852.8 L1145.5 1848.5 L1134.4 1867.9 Z" fill="#fff" stroke="#5a5397" stroke-width="1.2" stroke-linejoin="round"/><path d="M1145.5 1848.5 L1151.5 1864.4 L1134.4 1867.9 Z" fill="#57508f" /><path d="M1145.5 1848.5 L1163.4 1841.9 L1151.5 1864.4 Z" fill="#9c97c1" /><path d="M1163.4 1841.9 L1168.3 1858.9 L1151.5 1864.4 Z" fill="#7c77ab" /><path d="M1151.5 1864.4 L1168.3 1858.9 L1174.2 1875.7 L1158.4 1880.5 Z" fill="#fff" /><path d="M1168.3 1858.9 L1174.2 1875.7 L1158.4 1880.5" fill="none" stroke="#5a5397" stroke-width="1.2" stroke-linejoin="round"/><path d="M1134.4 1867.9 L1151.5 1864.4 L1139.6 1886.4 Z" fill="#8e89b9" /><path d="M1151.5 1864.4 L1156.7 1882.5 L1139.6 1886.4 Z" fill="#7c77ab" /><path d="M1134.4 1867.9 L1139.6 1886.4 L1122.8 1893.4 Z" fill="#7a75ab" /><path d="M1139.6 1886.4 L1156.7 1882.5 L1145.5 1905.2 Z" fill="#9c97c1" /><path d="M1158.4 1880.5 L1174.2 1875.7 L1163.4 1899.3 Z" fill="#7c77ab" /></g>
</svg>
<div id="tx">
<div class="t" style="left:143px;top:66px;font-size:66.86px;color:#ffffff;transform:translateX(0.29px) scaleX(0.9083);text-shadow:1.1px 0 0 #ffffff,-1.1px 0 0 #ffffff;">ACINAÇÃO</div>
<div class="t" style="left:143px;top:135px;font-size:37.5px;color:#ffffff;transform:translateX(0.51px) scaleX(0.9119);text-shadow:0.77px 0 0 #ffffff,-0.77px 0 0 #ffffff;letter-spacing:0.05em;">SAZONAL</div>
<div class="t" style="left:333px;top:139px;font-size:16.72px;color:#ffffff;transform:translateX(0.29px) scaleX(0.8462);font-weight:normal;">GRIPE e COVID-19</div>
<div class="t" style="left:333px;top:156px;font-size:10.74px;color:#ffffff;transform:translateX(0.45px) scaleX(1.0257);font-weight:normal;">2025/26</div>
<div class="t" style="left:508px;top:59px;font-size:119.91px;color:#ffffff;transform:translateX(0.21px) scaleX(0.8717);">GRIPE</div>
<div class="t" style="left:125px;top:196px;font-size:45.35px;color:#ffffff;transform:translateX(0.62px) scaleX(0.5382);text-shadow:1.39px 0 0 #ffffff,-1.39px 0 0 #ffffff;letter-spacing:0.035em;">BOLETIM DE VACINAÇÃO SAZONAL</div>
<div class="t" style="left:617px;top:196px;font-size:45.35px;color:#ffffff;transform:translateX(0.52px) scaleX(0.5712);text-shadow:1.31px 0 0 #ffffff,-1.31px 0 0 #ffffff;letter-spacing:0.035em;">N.º</div>
<div class="t" style="left:672px;top:197px;font-size:44.7px;color:#ffffff;transform:translateX(0.07px) scaleX(0.6681);text-shadow:1.12px 0 0 #ffffff,-1.12px 0 0 #ffffff;letter-spacing:0.035em;">03</div>
<div class="t" style="left:753px;top:196px;font-size:45.35px;color:#ffffff;transform:translateX(0.14px) scaleX(0.7029);text-shadow:1.07px 0 0 #ffffff,-1.07px 0 0 #ffffff;letter-spacing:0.035em;">23/09 A 12/10/2025</div>
<div class="t" style="left:753px;top:248px;font-size:22.53px;color:#ffffff;transform:translateX(0.91px) scaleX(0.6591);text-shadow:0.61px 0 0 #ffffff,-0.61px 0 0 #ffffff;letter-spacing:0.035em;">Período de referência dos dados</div>
<div class="t" style="left:535px;top:299px;font-size:27.62px;color:#1f3a5f;transform:translateX(0.34px) scaleX(0.6025);text-shadow:0.75px 0 0 #1f3a5f,-0.75px 0 0 #1f3a5f;letter-spacing:0.035em;">NÚMERO DE VACINAS ADMINISTRADAS</div>
<div class="t" style="left:94px;top:368px;font-size:48.4px;color:#ffffff;transform:translateX(0.76px) scaleX(0.5232);text-shadow:1.43px 0 0 #ffffff,-1.43px 0 0 #ffffff;letter-spacing:0.035em;">NÚMERO DOSES</div>
<div class="t" style="left:103px;top:455px;font-size:108.31px;color:#ee8c80;transform:translateX(0.17px) scaleX(0.6051);text-shadow:2.64px 0 0 #ee8c80,-2.64px 0 0 #ee8c80;letter-spacing:0.06em;word-spacing:-0.05em;">14 682</div>
<div class="t" style="left:438px;top:424px;font-size:26.22px;color:#ffffff;transform:translateX(0.67px) scaleX(0.6797);text-shadow:0.59px 0 0 #ffffff,-0.59px 0 0 #ffffff;letter-spacing:0.035em;">dose elevada</div>
<div class="t" style="left:619px;top:460px;font-size:28.65px;color:#ee8c80;transform:translateX(0.81px) scaleX(0.7249);text-shadow:0.62px 0 0 #ee8c80,-0.62px 0 0 #ee8c80;letter-spacing:0.035em;word-spacing:-0.05em;">5 154</div>
<div class="t" style="left:438px;top:502px;font-size:26.22px;color:#ffffff;transform:translateX(0.66px) scaleX(0.6889);text-shadow:0.58px 0 0 #ffffff,-0.58px 0 0 #ffffff;letter-spacing:0.035em;">dose normal</div>
<div class="t" style="left:619px;top:537px;font-size:27.94px;color:#ee8c80;transform:translateX(0.72px) scaleX(0.7522);text-shadow:0.6px 0 0 #ee8c80,-0.6px 0 0 #ee8c80;letter-spacing:0.035em;word-spacing:-0.05em;">9 528</div>
<div class="t" style="left:202px;top:585px;font-size:78.8px;color:#ee8c80;transform:translateX(0.84px) scaleX(0.6174);text-shadow:1.94px 0 0 #ee8c80,-1.94px 0 0 #ee8c80;letter-spacing:0.06em;word-spacing:-0.05em;">11 460</div>
<div class="t" style="left:239px;top:670px;font-size:59.03px;color:#ee8c80;transform:translateX(0.89px) scaleX(0.6222);text-shadow:1.45px 0 0 #ee8c80,-1.45px 0 0 #ee8c80;letter-spacing:0.05em;word-spacing:-0.05em;">16,9 %</div>
<div class="t" style="left:396px;top:616px;font-size:65.9px;color:#4f498a;transform:translateX(0.75px) scaleX(0.7231);text-shadow:1.38px 0 0 #4f498a,-1.38px 0 0 #4f498a;letter-spacing:0.035em;">60+</div>
<div class="t" style="left:775px;top:365px;font-size:47.24px;color:#ffffff;transform:translateX(0.55px) scaleX(0.5375);text-shadow:1.4px 0 0 #ffffff,-1.4px 0 0 #ffffff;letter-spacing:0.035em;">LOCAL DE ADMINISTRAÇÃO</div>
<div class="t" style="left:876px;top:466px;font-size:52.47px;color:#defdfd;transform:translateX(0.25px) scaleX(0.5275);text-shadow:1.9px 0 0 #defdfd,-1.9px 0 0 #defdfd;letter-spacing:0.035em;">DOMICÍLIO</div>
<div class="t" style="left:1057px;top:451px;font-size:82.09px;color:#ee8c80;transform:translateX(0.81px) scaleX(0.6074);text-shadow:2.06px 0 0 #ee8c80,-2.06px 0 0 #ee8c80;letter-spacing:0.06em;word-spacing:-0.05em;">1 543</div>
<div class="t" style="left:894px;top:567px;font-size:52.62px;color:#defdfd;transform:translateX(0.59px) scaleX(0.5121);text-shadow:1.95px 0 0 #defdfd,-1.95px 0 0 #defdfd;letter-spacing:0.035em;">C. SAÚDE</div>
<div class="t" style="left:1057px;top:549px;font-size:82.09px;color:#ee8c80;transform:translateX(0.84px) scaleX(0.6023);text-shadow:2.08px 0 0 #ee8c80,-2.08px 0 0 #ee8c80;letter-spacing:0.06em;word-spacing:-0.05em;">12 321</div>
<div class="t" style="left:902px;top:658px;font-size:52.47px;color:#defdfd;transform:translateX(0.42px) scaleX(0.5461);text-shadow:1.83px 0 0 #defdfd,-1.83px 0 0 #defdfd;letter-spacing:0.035em;">OUTROS</div>
<div class="t" style="left:1052px;top:639px;font-size:83.24px;color:#ee8c80;transform:translateX(0.36px) scaleX(0.6383);text-shadow:1.96px 0 0 #ee8c80,-1.96px 0 0 #ee8c80;letter-spacing:0.06em;">818</div>
<div class="t" style="left:508px;top:762px;font-size:27.62px;color:#1f3a5f;transform:translateX(0.79px) scaleX(0.5843);text-shadow:0.77px 0 0 #1f3a5f,-0.77px 0 0 #1f3a5f;letter-spacing:0.035em;">CARACTERIZAÇÃO DA POPULAÇÃO VACINADA</div>
<div class="t" style="left:94px;top:797px;font-size:47.82px;color:#ffffff;transform:translateX(0.57px) scaleX(0.5267);text-shadow:1.42px 0 0 #ffffff,-1.42px 0 0 #ffffff;letter-spacing:0.035em;">DITRIBUIÇÃO POR</div>
<div class="t" style="left:95px;top:842px;font-size:47.24px;color:#ffffff;transform:translateX(0.23px) scaleX(0.5241);text-shadow:1.43px 0 0 #ffffff,-1.43px 0 0 #ffffff;letter-spacing:0.035em;">GRUPOS ESPECÍFICOS</div>
<div class="t" style="left:244px;top:920px;font-size:21.53px;color:#defdfd;transform:translateX(0.23px) scaleX(0.6737);text-shadow:0.3px 0 0 #defdfd,-0.3px 0 0 #defdfd;letter-spacing:0.035em;">Patologias crónicas</div>
<div class="t" style="left:448px;top:914px;font-size:27.94px;color:#ffffff;transform:translateX(0.85px) scaleX(0.7567);text-shadow:0.66px 0 0 #ffffff,-0.66px 0 0 #ffffff;letter-spacing:0.035em;word-spacing:-0.05em;">5 708</div>
<div class="t" style="left:71px;top:958px;font-size:21.53px;color:#defdfd;transform:translateX(0.61px) scaleX(0.6654);text-shadow:0.3px 0 0 #defdfd,-0.3px 0 0 #defdfd;letter-spacing:0.035em;">Coabitantes de pessoa com doença crónica</div>
<div class="t" style="left:464px;top:952px;font-size:27.94px;color:#ffffff;transform:translateX(0.59px) scaleX(0.7567);text-shadow:0.66px 0 0 #ffffff,-0.66px 0 0 #ffffff;letter-spacing:0.035em;">72</div>
<div class="t" style="left:232px;top:996px;font-size:21.53px;color:#defdfd;transform:translateX(0.11px) scaleX(0.6718);text-shadow:0.3px 0 0 #defdfd,-0.3px 0 0 #defdfd;letter-spacing:0.035em;">Cuidadores informais</div>
<div class="t" style="left:459px;top:990px;font-size:27.94px;color:#ffffff;transform:translateX(0.19px) scaleX(0.7424);text-shadow:0.67px 0 0 #ffffff,-0.67px 0 0 #ffffff;letter-spacing:0.035em;">183</div>
<div class="t" style="left:324px;top:1033px;font-size:21.53px;color:#defdfd;transform:translateX(0.26px) scaleX(0.6547);text-shadow:0.31px 0 0 #defdfd,-0.31px 0 0 #defdfd;letter-spacing:0.035em;">Reclusos</div>
<div class="t" style="left:469px;top:1027px;font-size:27.94px;color:#ffffff;transform:translateX(0.5px) scaleX(0.9032);text-shadow:0.55px 0 0 #ffffff,-0.55px 0 0 #ffffff;letter-spacing:0.035em;">0</div>
<div class="t" style="left:85px;top:1071px;font-size:21.53px;color:#defdfd;transform:translateX(0.23px) scaleX(0.6703);text-shadow:0.3px 0 0 #defdfd,-0.3px 0 0 #defdfd;letter-spacing:0.035em;">Residentes ou internados em instituições</div>
<div class="t" style="left:458px;top:1065px;font-size:27.94px;color:#ffffff;transform:translateX(0.51px) scaleX(0.7602);text-shadow:0.66px 0 0 #ffffff,-0.66px 0 0 #ffffff;letter-spacing:0.035em;">367</div>
<div class="t" style="left:112px;top:1109px;font-size:21.53px;color:#defdfd;transform:translateX(0.75px) scaleX(0.6629);text-shadow:0.3px 0 0 #defdfd,-0.3px 0 0 #defdfd;letter-spacing:0.035em;">Pessoas em outro contexto específico</div>
<div class="t" style="left:473px;top:1103px;font-size:27.94px;color:#ffffff;transform:translateX(0.69px) scaleX(0.4615);text-shadow:1.08px 0 0 #ffffff,-1.08px 0 0 #ffffff;letter-spacing:0.035em;">1</div>
<div class="t" style="left:224px;top:1147px;font-size:21.53px;color:#defdfd;transform:translateX(0.24px) scaleX(0.6633);text-shadow:0.3px 0 0 #defdfd,-0.3px 0 0 #defdfd;letter-spacing:0.035em;">Profissionais de saúde</div>
<div class="t" style="left:458px;top:1141px;font-size:27.94px;color:#ffffff;transform:translateX(0.51px) scaleX(0.7640);text-shadow:0.65px 0 0 #ffffff,-0.65px 0 0 #ffffff;letter-spacing:0.035em;">394</div>
<div class="t" style="left:167px;top:1185px;font-size:21.53px;color:#defdfd;transform:translateX(0.74px) scaleX(0.6685);text-shadow:0.3px 0 0 #defdfd,-0.3px 0 0 #defdfd;letter-spacing:0.035em;">Profissionais de proteção civil</div>
<div class="t" style="left:463px;top:1179px;font-size:27.94px;color:#ffffff;transform:translateX(0.75px) scaleX(0.7759);text-shadow:0.64px 0 0 #ffffff,-0.64px 0 0 #ffffff;letter-spacing:0.035em;">24</div>
<div class="t" style="left:242px;top:1222px;font-size:21.53px;color:#defdfd;transform:translateX(0.12px) scaleX(0.6594);text-shadow:0.3px 0 0 #defdfd,-0.3px 0 0 #defdfd;letter-spacing:0.035em;">Outros profissionais</div>
<div class="t" style="left:458px;top:1217px;font-size:27.94px;color:#ffffff;transform:translateX(0.34px) scaleX(0.7624);text-shadow:0.66px 0 0 #ffffff,-0.66px 0 0 #ffffff;letter-spacing:0.035em;">520</div>
<div class="t" style="left:94px;top:1282px;font-size:47.53px;color:#ffffff;transform:translateX(0.87px) scaleX(0.5297);text-shadow:1.42px 0 0 #ffffff,-1.42px 0 0 #ffffff;letter-spacing:0.035em;">DISTRIBUIÇÃO E COBERTURA</div>
<div class="t" style="left:94px;top:1332px;font-size:48.11px;color:#ffffff;transform:translateX(0.9px) scaleX(0.5124);text-shadow:1.46px 0 0 #ffffff,-1.46px 0 0 #ffffff;letter-spacing:0.035em;">POR GRUPO ETÁRIO</div>
<div class="t" style="left:163px;top:1415px;font-size:22.97px;color:#ffffff;transform:translateX(0.49px) scaleX(0.5941);text-shadow:0.67px 0 0 #ffffff,-0.67px 0 0 #ffffff;letter-spacing:0.035em;">RAM</div>
<div class="t" style="left:265px;top:1422px;font-size:17.05px;color:#ffffff;transform:translateX(0.54px) scaleX(0.7121);text-shadow:0.42px 0 0 #ffffff,-0.42px 0 0 #ffffff;letter-spacing:0.035em;word-spacing:-0.05em;">14 682</div>
<div class="t" style="left:318px;top:1422px;font-size:17.05px;color:#defdfd;transform:translateX(0.91px) scaleX(0.7410);text-shadow:0.4px 0 0 #defdfd,-0.4px 0 0 #defdfd;letter-spacing:0.035em;">5,9%</div>
<div class="t" style="left:124px;top:1449px;font-size:24.36px;color:#ffffff;transform:translateX(0.92px) scaleX(0.6251);text-shadow:0.64px 0 0 #ffffff,-0.64px 0 0 #ffffff;letter-spacing:0.035em;word-spacing:-0.05em;">85 e mais</div>
<div class="t" style="left:415px;top:1455px;font-size:17.05px;color:#ffffff;transform:translateX(0.54px) scaleX(0.7056);text-shadow:0.43px 0 0 #ffffff,-0.43px 0 0 #ffffff;letter-spacing:0.035em;word-spacing:-0.05em;">1 437</div>
<div class="t" style="left:462px;top:1455px;font-size:17.05px;color:#defdfd;transform:translateX(0.36px) scaleX(0.7426);text-shadow:0.4px 0 0 #defdfd,-0.4px 0 0 #defdfd;letter-spacing:0.035em;">23,0%</div>
<div class="t" style="left:153px;top:1483px;font-size:24.36px;color:#ffffff;transform:translateX(0.4px) scaleX(0.6435);text-shadow:0.62px 0 0 #ffffff,-0.62px 0 0 #ffffff;letter-spacing:0.035em;">80-84</div>
<div class="t" style="left:414px;top:1488px;font-size:17.05px;color:#ffffff;transform:translateX(0.55px) scaleX(0.7019);text-shadow:0.43px 0 0 #ffffff,-0.43px 0 0 #ffffff;letter-spacing:0.035em;word-spacing:-0.05em;">1 558</div>
<div class="t" style="left:459px;top:1488px;font-size:17.05px;color:#defdfd;transform:translateX(0.85px) scaleX(0.7628);text-shadow:0.39px 0 0 #defdfd,-0.39px 0 0 #defdfd;letter-spacing:0.035em;">22,7%</div>
<div class="t" style="left:157px;top:1517px;font-size:24.36px;color:#ffffff;transform:translateX(0.23px) scaleX(0.6384);text-shadow:0.63px 0 0 #ffffff,-0.63px 0 0 #ffffff;letter-spacing:0.035em;">75-79</div>
<div class="t" style="left:418px;top:1522px;font-size:17.05px;color:#ffffff;transform:translateX(0.86px) scaleX(0.7396);text-shadow:0.41px 0 0 #ffffff,-0.41px 0 0 #ffffff;letter-spacing:0.035em;word-spacing:-0.05em;">2 185</div>
<div class="t" style="left:466px;top:1522px;font-size:17.05px;color:#defdfd;transform:translateX(0.36px) scaleX(0.7426);text-shadow:0.4px 0 0 #defdfd,-0.4px 0 0 #defdfd;letter-spacing:0.035em;">23,1%</div>
<div class="t" style="left:153px;top:1550px;font-size:24.36px;color:#ffffff;transform:translateX(0.22px) scaleX(0.6463);text-shadow:0.62px 0 0 #ffffff,-0.62px 0 0 #ffffff;letter-spacing:0.035em;">70-74</div>
<div class="t" style="left:386px;top:1555px;font-size:17.05px;color:#ffffff;transform:translateX(0.36px) scaleX(0.7404);text-shadow:0.41px 0 0 #ffffff,-0.41px 0 0 #ffffff;letter-spacing:0.035em;word-spacing:-0.05em;">2 388</div>
<div class="t" style="left:434px;top:1555px;font-size:17.05px;color:#defdfd;transform:translateX(0.51px) scaleX(0.7398);text-shadow:0.41px 0 0 #defdfd,-0.41px 0 0 #defdfd;letter-spacing:0.035em;">19,3%</div>
<div class="t" style="left:153px;top:1584px;font-size:24.36px;color:#ffffff;transform:translateX(0.32px) scaleX(0.6525);text-shadow:0.61px 0 0 #ffffff,-0.61px 0 0 #ffffff;letter-spacing:0.035em;">65-69</div>
<div class="t" style="left:344px;top:1589px;font-size:17.05px;color:#ffffff;transform:translateX(0.86px) scaleX(0.7404);text-shadow:0.41px 0 0 #ffffff,-0.41px 0 0 #ffffff;letter-spacing:0.035em;word-spacing:-0.05em;">2 208</div>
<div class="t" style="left:393px;top:1589px;font-size:17.05px;color:#defdfd;transform:translateX(0.53px) scaleX(0.7195);text-shadow:0.42px 0 0 #defdfd,-0.42px 0 0 #defdfd;letter-spacing:0.035em;">14,6%</div>
<div class="t" style="left:153px;top:1618px;font-size:24.36px;color:#ffffff;transform:translateX(0.32px) scaleX(0.6447);text-shadow:0.62px 0 0 #ffffff,-0.62px 0 0 #ffffff;letter-spacing:0.035em;">60-64</div>
<div class="t" style="left:300px;top:1622px;font-size:17.05px;color:#ffffff;transform:translateX(0.03px) scaleX(0.7181);text-shadow:0.42px 0 0 #ffffff,-0.42px 0 0 #ffffff;letter-spacing:0.035em;word-spacing:-0.05em;">1 684</div>
<div class="t" style="left:346px;top:1622px;font-size:17.05px;color:#defdfd;transform:translateX(0.86px) scaleX(0.7423);text-shadow:0.4px 0 0 #defdfd,-0.4px 0 0 #defdfd;letter-spacing:0.035em;">9,4%</div>
<div class="t" style="left:157px;top:1652px;font-size:24.36px;color:#ffffff;transform:translateX(0.42px) scaleX(0.6355);text-shadow:0.63px 0 0 #ffffff,-0.63px 0 0 #ffffff;letter-spacing:0.035em;">55-59</div>
<div class="t" style="left:255px;top:1655px;font-size:17.05px;color:#ffffff;transform:translateX(0.84px) scaleX(0.7703);text-shadow:0.39px 0 0 #ffffff,-0.39px 0 0 #ffffff;letter-spacing:0.035em;">926</div>
<div class="t" style="left:293px;top:1655px;font-size:17.05px;color:#defdfd;transform:translateX(0.61px) scaleX(0.7486);text-shadow:0.4px 0 0 #defdfd,-0.4px 0 0 #defdfd;letter-spacing:0.035em;">4,4%</div>
<div class="t" style="left:153px;top:1685px;font-size:24.36px;color:#ffffff;transform:translateX(0.42px) scaleX(0.6433);text-shadow:0.62px 0 0 #ffffff,-0.62px 0 0 #ffffff;letter-spacing:0.035em;">50-54</div>
<div class="t" style="left:240px;top:1689px;font-size:17.05px;color:#ffffff;transform:translateX(0.9px) scaleX(0.7660);text-shadow:0.39px 0 0 #ffffff,-0.39px 0 0 #ffffff;letter-spacing:0.035em;">598</div>
<div class="t" style="left:278px;top:1689px;font-size:17.05px;color:#defdfd;transform:translateX(0.51px) scaleX(0.7511);text-shadow:0.4px 0 0 #defdfd,-0.4px 0 0 #defdfd;letter-spacing:0.035em;">3,0%</div>
<div class="t" style="left:154px;top:1719px;font-size:24.36px;color:#ffffff;transform:translateX(0.36px) scaleX(0.6364);text-shadow:0.63px 0 0 #ffffff,-0.63px 0 0 #ffffff;letter-spacing:0.035em;">25-49</div>
<div class="t" style="left:223px;top:1722px;font-size:17.05px;color:#ffffff;transform:translateX(0.03px) scaleX(0.7154);text-shadow:0.42px 0 0 #ffffff,-0.42px 0 0 #ffffff;letter-spacing:0.035em;word-spacing:-0.05em;">1 229</div>
<div class="t" style="left:270px;top:1722px;font-size:17.05px;color:#defdfd;transform:translateX(0.01px) scaleX(0.7386);text-shadow:0.41px 0 0 #defdfd,-0.41px 0 0 #defdfd;letter-spacing:0.035em;">1,5%</div>
<div class="t" style="left:155px;top:1753px;font-size:24.36px;color:#ffffff;transform:translateX(0.46px) scaleX(0.6122);text-shadow:0.65px 0 0 #ffffff,-0.65px 0 0 #ffffff;letter-spacing:0.035em;">18-24</div>
<div class="t" style="left:218px;top:1756px;font-size:17.05px;color:#ffffff;transform:translateX(0.57px) scaleX(0.6813);text-shadow:0.44px 0 0 #ffffff,-0.44px 0 0 #ffffff;letter-spacing:0.035em;">104</div>
<div class="t" style="left:254px;top:1756px;font-size:17.05px;color:#defdfd;transform:translateX(0.3px) scaleX(0.7438);text-shadow:0.4px 0 0 #defdfd,-0.4px 0 0 #defdfd;letter-spacing:0.035em;">0,5%</div>
<div class="t" style="left:168px;top:1787px;font-size:24.36px;color:#ffffff;transform:translateX(0.32px) scaleX(0.6028);text-shadow:0.66px 0 0 #ffffff,-0.66px 0 0 #ffffff;letter-spacing:0.035em;">0-17</div>
<div class="t" style="left:222px;top:1789px;font-size:17.05px;color:#ffffff;transform:translateX(0.52px) scaleX(0.7264);text-shadow:0.41px 0 0 #ffffff,-0.41px 0 0 #ffffff;letter-spacing:0.035em;">365</div>
<div class="t" style="left:259px;top:1789px;font-size:17.05px;color:#defdfd;transform:translateX(0.3px) scaleX(0.7438);text-shadow:0.4px 0 0 #defdfd,-0.4px 0 0 #defdfd;letter-spacing:0.035em;">0,9%</div>
<div class="t" style="left:467px;top:1708px;font-size:32.41px;color:#564f8c;transform:translateX(0.04px) scaleX(0.5351);text-shadow:1.03px 0 0 #564f8c,-1.03px 0 0 #564f8c;letter-spacing:0.035em;">COBERTURA</div>
<div class="t" style="left:597px;top:1704px;font-size:30.09px;color:#ee8c80;transform:translateX(0.73px) scaleX(0.6946);text-shadow:0.72px 0 0 #ee8c80,-0.72px 0 0 #ee8c80;letter-spacing:0.035em;">65+</div>
<div class="t" style="left:487px;top:1768px;font-size:32.23px;color:#ffffff;transform:translateX(0.97px) scaleX(0.6988);text-shadow:0.79px 0 0 #ffffff,-0.79px 0 0 #ffffff;letter-spacing:0.035em;word-spacing:-0.05em;">9 776</div>
<div class="t" style="left:577px;top:1768px;font-size:32.23px;color:#defdfd;transform:translateX(0.19px) scaleX(0.6718);text-shadow:0.82px 0 0 #defdfd,-0.82px 0 0 #defdfd;letter-spacing:0.035em;">19,5%</div>
<div class="t" style="left:632px;top:858px;font-size:47.24px;color:#ffffff;transform:translateX(0.08px) scaleX(0.5290);text-shadow:1.42px 0 0 #ffffff,-1.42px 0 0 #ffffff;letter-spacing:0.035em;">DISTRIBUIÇÃO E COBERTURA POR CONCELHO</div>
<div class="t" style="left:680px;top:962px;font-size:40.4px;color:#564f8c;transform:translateX(0.54px) scaleX(0.6508);text-shadow:1.08px 0 0 #564f8c,-1.08px 0 0 #564f8c;letter-spacing:0.035em;">183</div>
<div class="t" style="left:674px;top:1037px;font-size:34.53px;color:#564f8c;transform:translateX(0.6px) scaleX(0.6731);text-shadow:0.89px 0 0 #564f8c,-0.89px 0 0 #564f8c;letter-spacing:0.035em;">7,3%</div>
<div class="t" style="left:722px;top:1176px;font-size:18.17px;color:#defdfd;transform-origin:0 15px;transform:translate(-0.5px,0.33px) rotate(-90deg) scaleX(0.5188);text-shadow:0.58px 0 0 #defdfd,-0.58px 0 0 #defdfd;letter-spacing:0.035em;">PORTO MONIZ</div>
<div class="t" style="left:853px;top:962px;font-size:40.4px;color:#564f8c;transform:translateX(0.57px) scaleX(0.6795);text-shadow:1.03px 0 0 #564f8c,-1.03px 0 0 #564f8c;letter-spacing:0.035em;">376</div>
<div class="t" style="left:848px;top:1037px;font-size:34.53px;color:#564f8c;transform:translateX(0.61px) scaleX(0.6668);text-shadow:0.9px 0 0 #564f8c,-0.9px 0 0 #564f8c;letter-spacing:0.035em;">7,7%</div>
<div class="t" style="left:898px;top:1161px;font-size:18.17px;color:#defdfd;transform-origin:0 15px;transform:translate(0.5px,0.47px) rotate(-90deg) scaleX(0.5159);text-shadow:0.58px 0 0 #defdfd,-0.58px 0 0 #defdfd;letter-spacing:0.035em;">S. VICENTE</div>
<div class="t" style="left:1027px;top:980px;font-size:40.4px;color:#564f8c;transform:translateX(0.05px) scaleX(0.6620);text-shadow:1.06px 0 0 #564f8c,-1.06px 0 0 #564f8c;letter-spacing:0.035em;">715</div>
<div class="t" style="left:1018px;top:1056px;font-size:34.53px;color:#564f8c;transform:translateX(0.16px) scaleX(0.6603);text-shadow:0.91px 0 0 #564f8c,-0.91px 0 0 #564f8c;letter-spacing:0.035em;">10,9%</div>
<div class="t" style="left:1069px;top:1172px;font-size:18.9px;color:#defdfd;transform-origin:0 15px;transform:translate(0px,0.47px) rotate(-90deg) scaleX(0.4921);text-shadow:0.61px 0 0 #defdfd,-0.61px 0 0 #defdfd;letter-spacing:0.035em;">SANTANA</div>
<div class="t" style="left:1245px;top:962px;font-size:40.4px;color:#564f8c;transform:translateX(0.57px) scaleX(0.6743);text-shadow:1.04px 0 0 #564f8c,-1.04px 0 0 #564f8c;letter-spacing:0.035em;">348</div>
<div class="t" style="left:1241px;top:1037px;font-size:34.53px;color:#564f8c;transform:translateX(0.25px) scaleX(0.6713);text-shadow:0.89px 0 0 #564f8c,-0.89px 0 0 #564f8c;letter-spacing:0.035em;">6,8%</div>
<div class="t" style="left:1286px;top:1178px;font-size:17.73px;color:#defdfd;transform-origin:0 14px;transform:translate(0.5px,0.32px) rotate(-90deg) scaleX(0.5204);text-shadow:0.58px 0 0 #defdfd,-0.58px 0 0 #defdfd;letter-spacing:0.035em;">PORTO SANTO</div>
<div class="t" style="left:771px;top:1123px;font-size:40.4px;color:#564f8c;transform:translateX(0.58px) scaleX(0.6688);text-shadow:1.05px 0 0 #564f8c,-1.05px 0 0 #564f8c;letter-spacing:0.035em;">391</div>
<div class="t" style="left:771px;top:1198px;font-size:34.53px;color:#564f8c;transform:translateX(0.25px) scaleX(0.6713);text-shadow:0.89px 0 0 #564f8c,-0.89px 0 0 #564f8c;letter-spacing:0.035em;">4,7%</div>
<div class="t" style="left:816px;top:1339px;font-size:19.62px;color:#defdfd;transform-origin:0 16px;transform:translate(0px,0.32px) rotate(-90deg) scaleX(0.4704);text-shadow:0.64px 0 0 #defdfd,-0.64px 0 0 #defdfd;letter-spacing:0.035em;">PONTA DO SOL</div>
<div class="t" style="left:935px;top:1150px;font-size:40.4px;color:#564f8c;transform:translateX(0.05px) scaleX(0.6465);text-shadow:1.08px 0 0 #564f8c,-1.08px 0 0 #564f8c;letter-spacing:0.035em;word-spacing:-0.05em;">1 809</div>
<div class="t" style="left:942px;top:1225px;font-size:34.53px;color:#564f8c;transform:translateX(0.37px) scaleX(0.6882);text-shadow:0.87px 0 0 #564f8c,-0.87px 0 0 #564f8c;letter-spacing:0.035em;">5,6%</div>
<div class="t" style="left:986px;top:1354px;font-size:18.46px;color:#defdfd;transform-origin:0 15px;transform:translate(0.3px,-0.41px) rotate(-90deg) scaleX(0.5142);text-shadow:0.58px 0 0 #defdfd,-0.58px 0 0 #defdfd;letter-spacing:0.035em;">CÂMARA DE</div>
<div class="t" style="left:1005px;top:1326px;font-size:18.6px;color:#defdfd;transform-origin:0 15px;transform:translate(0.1px,0.3px) rotate(-90deg) scaleX(0.4851);text-shadow:0.62px 0 0 #defdfd,-0.62px 0 0 #defdfd;letter-spacing:0.035em;">LOBOS</div>
<div class="t" style="left:1136px;top:1108px;font-size:40.4px;color:#564f8c;transform:translateX(0.53px) scaleX(0.6564);text-shadow:1.07px 0 0 #564f8c,-1.07px 0 0 #564f8c;letter-spacing:0.035em;word-spacing:-0.05em;">1 669</div>
<div class="t" style="left:1147px;top:1183px;font-size:34.53px;color:#564f8c;transform:translateX(0.35px) scaleX(0.6823);text-shadow:0.88px 0 0 #564f8c,-0.88px 0 0 #564f8c;letter-spacing:0.035em;">8,5%</div>
<div class="t" style="left:1191px;top:1300px;font-size:18.17px;color:#defdfd;transform-origin:0 15px;transform:translate(0px,0.36px) rotate(-90deg) scaleX(0.5404);text-shadow:0.56px 0 0 #defdfd,-0.56px 0 0 #defdfd;letter-spacing:0.035em;">MACHICO</div>
<div class="t" style="left:618px;top:1256px;font-size:40.4px;color:#564f8c;transform:translateX(0.04px) scaleX(0.6522);text-shadow:1.07px 0 0 #564f8c,-1.07px 0 0 #564f8c;letter-spacing:0.035em;word-spacing:-0.05em;">1 002</div>
<div class="t" style="left:627px;top:1331px;font-size:34.53px;color:#564f8c;transform:translateX(0.28px) scaleX(0.6832);text-shadow:0.88px 0 0 #564f8c,-0.88px 0 0 #564f8c;letter-spacing:0.035em;">9,2%</div>
<div class="t" style="left:674px;top:1447px;font-size:17.44px;color:#defdfd;transform-origin:0 14px;transform:translate(-0.5px,0.08px) rotate(-90deg) scaleX(0.5291);text-shadow:0.57px 0 0 #defdfd,-0.57px 0 0 #defdfd;letter-spacing:0.035em;">CALHETA</div>
<div class="t" style="left:807px;top:1393px;font-size:40.4px;color:#564f8c;transform:translateX(0.05px) scaleX(0.6620);text-shadow:1.06px 0 0 #564f8c,-1.06px 0 0 #564f8c;letter-spacing:0.035em;">781</div>
<div class="t" style="left:807px;top:1468px;font-size:34.53px;color:#564f8c;transform:translateX(0.24px) scaleX(0.6837);text-shadow:0.88px 0 0 #564f8c,-0.88px 0 0 #564f8c;letter-spacing:0.035em;">6,2%</div>
<div class="t" style="left:852px;top:1616px;font-size:18.17px;color:#defdfd;transform-origin:0 15px;transform:translate(-0.5px,0.34px) rotate(-90deg) scaleX(0.5250);text-shadow:0.57px 0 0 #defdfd,-0.57px 0 0 #defdfd;letter-spacing:0.035em;">RIBEIRA BRAVA</div>
<div class="t" style="left:955px;top:1413px;font-size:40.4px;color:#564f8c;transform:translateX(0.86px) scaleX(0.6775);text-shadow:1.03px 0 0 #564f8c,-1.03px 0 0 #564f8c;letter-spacing:0.035em;word-spacing:-0.05em;">5 409</div>
<div class="t" style="left:965px;top:1488px;font-size:34.53px;color:#564f8c;transform:translateX(0.38px) scaleX(0.6758);text-shadow:0.89px 0 0 #564f8c,-0.89px 0 0 #564f8c;letter-spacing:0.035em;">5,1%</div>
<div class="t" style="left:1011px;top:1604px;font-size:18.17px;color:#defdfd;transform-origin:0 15px;transform:translate(0px,0.33px) rotate(-90deg) scaleX(0.5220);text-shadow:0.57px 0 0 #defdfd,-0.57px 0 0 #defdfd;letter-spacing:0.035em;">FUNCHAL</div>
<div class="t" style="left:1094px;top:1396px;font-size:40.4px;color:#564f8c;transform:translateX(0.03px) scaleX(0.6564);text-shadow:1.07px 0 0 #564f8c,-1.07px 0 0 #564f8c;letter-spacing:0.035em;word-spacing:-0.05em;">1 999</div>
<div class="t" style="left:1102px;top:1471px;font-size:34.53px;color:#564f8c;transform:translateX(0.75px) scaleX(0.6775);text-shadow:0.89px 0 0 #564f8c,-0.89px 0 0 #564f8c;letter-spacing:0.035em;">4,7%</div>
<div class="t" style="left:1146px;top:1589px;font-size:19.62px;color:#defdfd;transform-origin:0 16px;transform:translate(0px,-0.02px) rotate(-90deg) scaleX(0.4936);text-shadow:0.61px 0 0 #defdfd,-0.61px 0 0 #defdfd;letter-spacing:0.035em;">ST.ª CRUZ</div>
<div class="t" style="left:1342px;top:1551px;font-size:12.35px;color:#eef;transform-origin:0 10px;transform:translate(0px,-0.39px) rotate(-90deg) scaleX(0.7545);font-weight:normal;text-shadow:0.2px 0 0 #eef,-0.2px 0 0 #eef;">Nota metodológica:</div>
<div class="t" style="left:1358px;top:1550px;font-size:13.08px;color:#eef;transform-origin:0 11px;transform:translate(0.5px,-0.44px) rotate(-90deg) scaleX(0.6628);font-weight:normal;text-shadow:0.23px 0 0 #eef,-0.23px 0 0 #eef;">Fonte de dados: SEIS-RAM / Módulo Vacinação, SESARAM EPERAM.</div>
<div class="t" style="left:1374px;top:1549px;font-size:13.08px;color:#eef;transform-origin:0 11px;transform:translate(0.2px,0.31px) rotate(-90deg) scaleX(0.6935);font-weight:normal;text-shadow:0.22px 0 0 #eef,-0.22px 0 0 #eef;">Cobertura vacinal calculada com base na população residente censitária de 2021, INE.</div>
<div class="t" style="left:1342px;top:1937px;font-size:13.08px;color:#544e8c;transform-origin:0 11px;transform:translate(0px,0.27px) rotate(-90deg) scaleX(0.7181);font-weight:normal;">Data de publicação: 14/10/2025</div>
<div class="t" style="left:1359px;top:1937px;font-size:13.81px;color:#544e8c;transform-origin:0 11px;transform:translate(0px,0.23px) rotate(-90deg) scaleX(0.6488);font-weight:normal;">DRS/DPESG (Departamento de Planeamento Estratégico e Saúde Global)</div>
<div class="t" style="left:768px;top:1919px;font-size:10.61px;color:#5a5397;transform:translateX(0.51px) scaleX(1.0345);font-family:'Liberation Serif',serif;">Região Autónoma</div>
<div class="t" style="left:768px;top:1930px;font-size:8.97px;color:#5a5397;transform:translateX(0.25px) scaleX(1.2359);font-family:'Liberation Serif',serif;">da Madeira</div>
<div class="t" style="left:769px;top:1939px;font-size:6.25px;color:#5a5397;transform:translateX(0.1px) scaleX(1.1707);font-family:'Liberation Serif',serif;font-weight:normal;">Governo Regional</div>
<div class="t" style="left:887px;top:1857px;font-size:32.99px;color:transparent;transform:translateX(0.85px) scaleX(1.0999);font-family:'Liberation Serif',serif;font-weight:normal;-webkit-text-stroke:1.1px #5a5397;">DRS</div>
<div class="t" style="left:887px;top:1895px;font-size:12.94px;color:#5a5397;transform:translateX(0.93px) scaleX(1.1192);font-family:'Liberation Serif',serif;font-weight:normal;">Secretaria Regional</div>
<div class="t" style="left:888px;top:1910px;font-size:14.35px;color:#5a5397;transform:translateX(0.28px) scaleX(1.0596);font-family:'Liberation Serif',serif;">de Saúde e Proteção Civil</div>
<div class="t" style="left:888px;top:1928px;font-size:8.87px;color:#5a5397;transform:translateX(0.74px) scaleX(1.0440);font-family:'Liberation Serif',serif;">Direção Regional da Saúde</div>
<div class="t" style="left:1160px;top:1911px;font-size:29.51px;color:#57508f;transform:translateX(0.51px) scaleX(0.9076);text-shadow:0.44px 0 0 #57508f,-0.44px 0 0 #57508f;letter-spacing:0.035em;">PRS</div>
<div class="t" style="left:1161px;top:1938px;font-size:12.94px;color:#57508f;transform:translateX(0.52px) scaleX(1.0128);text-shadow:0.2px 0 0 #57508f,-0.2px 0 0 #57508f;letter-spacing:0.035em;">RAM</div>
<div class="t" style="left:1161px;top:1952px;font-size:7.74px;color:#8580b0;transform:translateX(0.78px) scaleX(1.0907);font-weight:normal;">2021-2030</div>
</div>
</body></html>
